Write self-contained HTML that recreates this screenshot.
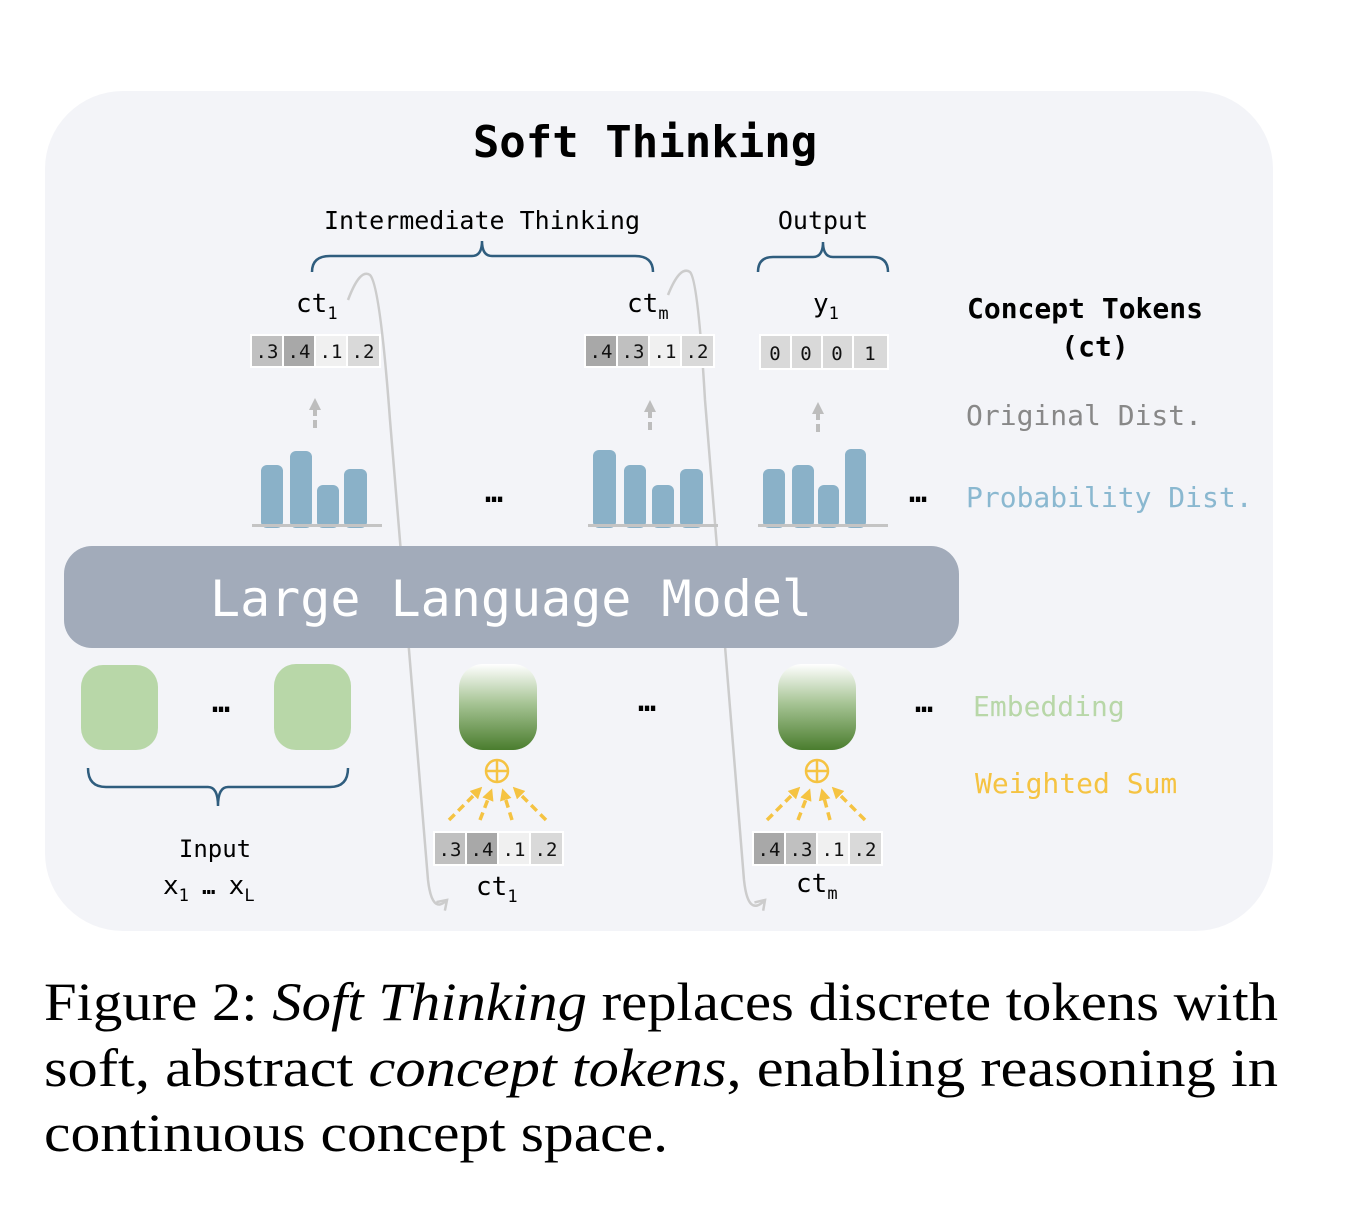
<!DOCTYPE html>
<html><head><meta charset="utf-8"><style>
html,body{margin:0;padding:0;background:#fff;}
svg{display:block;}
.m{font-family:"DejaVu Sans Mono","Liberation Mono",monospace;}
.c{font-family:"DejaVu Sans Mono","Liberation Mono",monospace;font-size:19px;fill:#111;text-anchor:middle;}
</style></head><body>
<svg width="1346" height="1218" viewBox="0 0 1346 1218" xmlns="http://www.w3.org/2000/svg">
<defs>
<linearGradient id="g" x1="0" y1="0" x2="0" y2="1">
<stop offset="0" stop-color="#ffffff"/><stop offset="0.45" stop-color="#a8c596"/><stop offset="1" stop-color="#4a7d2e"/>
</linearGradient>
<marker id="ga" markerWidth="12" markerHeight="12" refX="6" refY="6" orient="auto" markerUnits="userSpaceOnUse"><path d="M0,0 L12,6 L0,12 z" fill="#bdbdbd"/></marker>
<marker id="gc" markerWidth="14" markerHeight="14" refX="10" refY="7" orient="auto" markerUnits="userSpaceOnUse"><path d="M1,1 L10,7 L1,13" fill="none" stroke="#cccccc" stroke-width="2.5"/></marker>
<marker id="ya" markerWidth="12" markerHeight="12" refX="6" refY="6" orient="auto" markerUnits="userSpaceOnUse"><path d="M0,0 L12,6 L0,12 z" fill="#f5c342"/></marker>
</defs>
<rect x="45" y="91" width="1228" height="840" rx="78" fill="#f3f4f8"/>
<text x="645" y="157" class="m" font-size="44" font-weight="bold" text-anchor="middle" fill="#000">Soft Thinking</text>

<g fill="none" stroke="#2f5d7e" stroke-width="2.5">
<path d="M312,272 Q312,256 330,256 L472,256 Q482,256 482,241 Q482,256 492,256 L635,256 Q653,256 653,272"/>
<path d="M758,272 Q758,257 773,257 L813,257 Q823,257 823,242 Q823,257 833,257 L873,257 Q888,257 888,272"/>
<path d="M88,768 Q88,787 106,787 L208,787 Q218,787 218,806 Q218,787 228,787 L330,787 Q348,787 348,768"/>
</g>
<text x="482" y="229" class="m" font-size="25" text-anchor="middle">Intermediate Thinking</text>
<text x="823" y="229" class="m" font-size="25" text-anchor="middle">Output</text>

<g fill="none" stroke="#cccccc" stroke-width="2.5">
<path d="M348,300 Q360,268 370,275 Q380,285 390,420 L428,880 Q432,915 447,900" marker-end="url(#gc)"/>
<path d="M668,295 Q680,265 690,272 Q698,280 705,400 L744,880 Q748,918 765,900" marker-end="url(#gc)"/>
</g>

<text x="296" y="312" class="m" font-size="26">ct<tspan font-size="17" dy="7">1</tspan></text>
<text x="627" y="312" class="m" font-size="26">ct<tspan font-size="17" dy="7">m</tspan></text>
<text x="813" y="312" class="m" font-size="26">y<tspan font-size="17" dy="7">1</tspan></text>

<g>
<rect x="250" y="334" width="131" height="34" fill="#fff"/>
<rect x="252" y="336" width="30" height="30" fill="#c0c0c0"/><rect x="284" y="336" width="30" height="30" fill="#a8a8a8"/>
<rect x="316" y="336" width="30" height="30" fill="#f0f0f0"/><rect x="348" y="336" width="31" height="30" fill="#d9d9d9"/>
<text x="267" y="358" class="c">.3</text><text x="299" y="358" class="c">.4</text><text x="331" y="358" class="c">.1</text><text x="363" y="358" class="c">.2</text>

<rect x="584" y="334" width="131" height="34" fill="#fff"/>
<rect x="586" y="336" width="30" height="30" fill="#a8a8a8"/><rect x="618" y="336" width="30" height="30" fill="#c0c0c0"/>
<rect x="650" y="336" width="30" height="30" fill="#f0f0f0"/><rect x="682" y="336" width="31" height="30" fill="#d9d9d9"/>
<text x="601" y="358" class="c">.4</text><text x="633" y="358" class="c">.3</text><text x="665" y="358" class="c">.1</text><text x="697" y="358" class="c">.2</text>

<rect x="759" y="334" width="130" height="36" fill="#fff"/>
<rect x="761" y="336" width="29" height="32" fill="#d9d9d9"/><rect x="792" y="336" width="29" height="32" fill="#d9d9d9"/>
<rect x="823" y="336" width="29" height="32" fill="#d9d9d9"/><rect x="854" y="336" width="33" height="32" fill="#d9d9d9"/>
<text x="775" y="360" class="c">0</text><text x="806" y="360" class="c">0</text><text x="837" y="360" class="c">0</text><text x="870" y="360" class="c">1</text>
</g>

<g stroke="#bdbdbd" stroke-width="4" stroke-dasharray="8,4" fill="none">
<path d="M315,428 L315,404" marker-end="url(#ga)"/>
<path d="M650,430 L650,406" marker-end="url(#ga)"/>
<path d="M818,432 L818,408" marker-end="url(#ga)"/>
</g>

<g fill="#8ab1c8">
<rect x="261" y="465" width="22" height="63" rx="6"/><rect x="290" y="451" width="22" height="77" rx="6"/><rect x="317" y="485" width="22" height="43" rx="6"/><rect x="344" y="469" width="23" height="59" rx="6"/>
<rect x="593" y="450" width="23" height="78" rx="6"/><rect x="624" y="465" width="22" height="63" rx="6"/><rect x="652" y="485" width="22" height="43" rx="6"/><rect x="680" y="469" width="23" height="59" rx="6"/>
<rect x="763" y="469" width="22" height="59" rx="6"/><rect x="792" y="465" width="22" height="63" rx="6"/><rect x="818" y="485" width="21" height="43" rx="6"/><rect x="845" y="449" width="21" height="79" rx="6"/>
</g>
<g fill="#c4c4c4">
<rect x="252" y="524" width="130" height="3"/><rect x="588" y="524" width="130" height="3"/><rect x="758" y="524" width="130" height="3"/>
</g>

<g class="m" font-size="30" font-weight="bold" text-anchor="middle" fill="#000">
<text x="494" y="502">…</text><text x="918" y="502">…</text>
<text x="221" y="712">…</text><text x="647" y="711">…</text><text x="924" y="712">…</text>
</g>

<rect x="64" y="546" width="895" height="102" rx="28" fill="#a2abba"/>
<text x="511" y="616" class="m" font-size="50" fill="#fff" text-anchor="middle">Large Language Model</text>

<rect x="81" y="665" width="77" height="85" rx="22" fill="#b8d7a8"/>
<rect x="274" y="664" width="77" height="86" rx="22" fill="#b8d7a8"/>
<rect x="459" y="664" width="78" height="86" rx="24" fill="url(#g)"/>
<rect x="778" y="664" width="78" height="86" rx="24" fill="url(#g)"/>

<g fill="none" stroke="#f5c342" stroke-width="2.5">
<circle cx="497" cy="771" r="11"/><path d="M486,771 H508 M497,760 V782"/>
<circle cx="817" cy="771" r="11"/><path d="M806,771 H828 M817,760 V782"/>
</g>
<g stroke="#f5c342" stroke-width="3.5" stroke-dasharray="8,5" fill="none">
<path d="M449,820 L478,791" marker-end="url(#ya)"/><path d="M480,820 L490,794" marker-end="url(#ya)"/>
<path d="M512,820 L504,794" marker-end="url(#ya)"/><path d="M546,820 L517,791" marker-end="url(#ya)"/>
<path d="M767,820 L796,791" marker-end="url(#ya)"/><path d="M798,820 L808,794" marker-end="url(#ya)"/>
<path d="M830,820 L823,794" marker-end="url(#ya)"/><path d="M865,820 L836,791" marker-end="url(#ya)"/>
</g>

<rect x="433" y="831" width="131" height="35" fill="#fff"/>
<rect x="435" y="833" width="30" height="31" fill="#c0c0c0"/><rect x="467" y="833" width="30" height="31" fill="#a8a8a8"/>
<rect x="499" y="833" width="30" height="31" fill="#f0f0f0"/><rect x="531" y="833" width="31" height="31" fill="#d9d9d9"/>
<text x="450" y="856" class="c">.3</text><text x="482" y="856" class="c">.4</text><text x="514" y="856" class="c">.1</text><text x="546" y="856" class="c">.2</text>

<rect x="752" y="831" width="131" height="35" fill="#fff"/>
<rect x="754" y="833" width="30" height="31" fill="#a8a8a8"/><rect x="786" y="833" width="30" height="31" fill="#c0c0c0"/>
<rect x="818" y="833" width="30" height="31" fill="#f0f0f0"/><rect x="850" y="833" width="31" height="31" fill="#d9d9d9"/>
<text x="769" y="856" class="c">.4</text><text x="801" y="856" class="c">.3</text><text x="833" y="856" class="c">.1</text><text x="865" y="856" class="c">.2</text>

<text x="476" y="895" class="m" font-size="26">ct<tspan font-size="17" dy="7">1</tspan></text>
<text x="796" y="892" class="m" font-size="26">ct<tspan font-size="17" dy="7">m</tspan></text>

<text x="215" y="857" class="m" font-size="24" text-anchor="middle">Input</text>
<text x="163" y="894" class="m" font-size="26">x<tspan font-size="17" dy="7">1</tspan><tspan dy="-7" font-size="22" font-weight="bold"> … </tspan>x<tspan font-size="17" dy="7">L</tspan></text>

<text x="1085" y="318" class="m" font-size="28" font-weight="bold" text-anchor="middle">Concept Tokens</text>
<text x="1095" y="356" class="m" font-size="28" font-weight="bold" text-anchor="middle">(ct)</text>
<text x="966" y="425" class="m" font-size="28" fill="#888">Original Dist.</text>
<text x="966" y="507" class="m" font-size="28" fill="#8ab8d0">Probability Dist.</text>
<text x="973" y="716" class="m" font-size="28" fill="#b8d7a8">Embedding</text>
<text x="975" y="793" class="m" font-size="28" fill="#f5c342">Weighted Sum</text>

<g font-family="'Liberation Serif',serif" font-size="54" fill="#000">
<text x="44" y="1020" textLength="1234" lengthAdjust="spacingAndGlyphs">Figure 2: <tspan font-style="italic">Soft Thinking</tspan> replaces discrete tokens with</text>
<text x="44" y="1086" textLength="1234" lengthAdjust="spacingAndGlyphs">soft, abstract <tspan font-style="italic">concept tokens</tspan>, enabling reasoning in</text>
<text x="44" y="1151" textLength="624" lengthAdjust="spacingAndGlyphs">continuous concept space.</text>
</g>
</svg>
</body></html>
